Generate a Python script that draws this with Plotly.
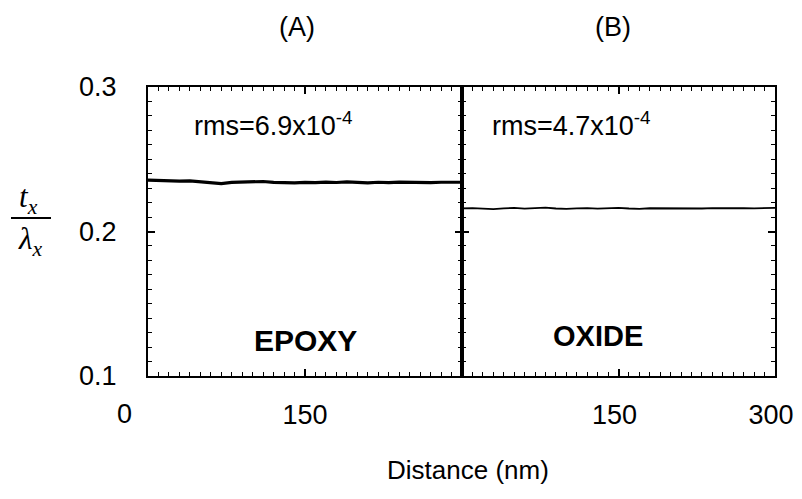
import plotly.graph_objects as go

# ---- data ----
dist_nm = [0, 10, 20, 30, 40, 50, 60, 70, 80, 90, 100, 110, 120, 130, 140, 150,
           160, 170, 180, 190, 200, 210, 220, 230, 240, 250, 260, 270, 280, 290, 300]
epoxy_ratio = [0.2355, 0.2352, 0.2350, 0.2348, 0.2350, 0.2345, 0.2338, 0.2332, 0.2340, 0.2342,
               0.2345, 0.2346, 0.2340, 0.2336, 0.2337, 0.2340, 0.2338, 0.2342, 0.2339, 0.2343,
               0.2340, 0.2337, 0.2341, 0.2338, 0.2342, 0.2339, 0.2340, 0.2338, 0.2341, 0.2340, 0.2341]
oxide_ratio = [0.2160, 0.2162, 0.2158, 0.2155, 0.2160, 0.2163, 0.2158, 0.2161, 0.2165, 0.2159,
               0.2156, 0.2160, 0.2162, 0.2158, 0.2161, 0.2163, 0.2159, 0.2157, 0.2161, 0.2160,
               0.2163, 0.2158, 0.2161, 0.2159, 0.2162, 0.2160, 0.2158, 0.2161, 0.2160, 0.2163, 0.2164]
x_ticks_a = [150]
x_ticks_b = [150, 300]
y_ticks = [0.1, 0.2, 0.3]

FONT = "Liberation Sans, Arial, sans-serif"
SERIF = "Liberation Serif, Times New Roman, serif"
# page body adds an 8px offset; figure sized so the page does not overflow the window
W, H = 794, 483
L, R, T, B = 140, 27, 79, 115
PW, PH = W - L - R, H - T - B
split = 314 / PW


def px(wx):   # window x pixel -> paper x
    return (wx - 148) / PW


def py(wy):   # window y pixel -> paper y
    return (376 - wy) / PH


fig = go.Figure()
fig.add_trace(go.Scatter(x=dist_nm, y=epoxy_ratio, mode="lines",
                         line=dict(color="black", width=3.2), xaxis="x", yaxis="y",
                         showlegend=False))
fig.add_trace(go.Scatter(x=dist_nm, y=oxide_ratio, mode="lines",
                         line=dict(color="black", width=1.8), xaxis="x2", yaxis="y2",
                         showlegend=False))

xcommon = dict(range=[0, 300], showline=True, linecolor="black", linewidth=2, mirror="allticks",
               ticks="inside", ticklen=7, tickwidth=1.5, tickcolor="black", showgrid=False,
               zeroline=False, tickfont=dict(family=FONT, size=27, color="black"),
               minor=dict(ticks="inside", ticklen=4, dtick=10, tickcolor="black", tickwidth=1),
               ticklabelstandoff=14, automargin=False, ticklabeloverflow="allow")
ycommon = dict(range=[0.1, 0.3], showline=True, linecolor="black", linewidth=2, mirror="allticks",
               ticks="inside", ticklen=7, tickwidth=1.5, tickcolor="black", showgrid=False,
               zeroline=False, tickvals=y_ticks, automargin=False,
               minor=dict(ticks="inside", ticklen=4, dtick=0.01, tickcolor="black", tickwidth=1))

fig.update_layout(
    width=W, height=H, autosize=False,
    margin=dict(l=L, r=R, t=T, b=B, pad=0),
    paper_bgcolor="white", plot_bgcolor="white",
    font=dict(family=FONT, size=27, color="black"),
    xaxis=dict(domain=[0, split], anchor="y", tickvals=x_ticks_a, **xcommon),
    xaxis2=dict(domain=[split, 1], anchor="y2", tickvals=x_ticks_b, ticklabelshift=-4, **xcommon),
    yaxis=dict(anchor="x", tickformat=".1f", ticklabelstandoff=24,
               tickfont=dict(family=FONT, size=27, color="black"), **ycommon),
    yaxis2=dict(anchor="x2", matches="y", showticklabels=False, **ycommon),
)


def txt(text, x, y, size, family=FONT, xanchor="center", **kw):
    return dict(text=text, x=x, y=y, xanchor=xanchor, yanchor="middle", showarrow=False,
                font=dict(family=family, size=size, color="black"), **kw)


ann = [
    txt("0", px(124), py(414), 27, xref="paper", yref="paper"),
    txt("(A)", px(297), py(27), 27, xref="paper", yref="paper"),
    txt("(B)", px(613), py(27), 27, xref="paper", yref="paper"),
    txt("Distance (nm)", px(468), py(470), 26, xref="paper", yref="paper"),
    txt("rms=6.9x10<sup>-4</sup>", 42, 0.2745, 27, xanchor="left", xref="x", yref="y"),
    txt("rms=4.7x10<sup>-4</sup>", 27, 0.2745, 27, xanchor="left", xref="x2", yref="y2"),
    txt("<b>EPOXY</b>", 150, 0.1245, 30, xref="x", yref="y"),
    txt("<b>OXIDE</b>", 130, 0.1275, 29, xref="x2", yref="y2"),
    txt("<i>t<sub>x</sub></i>", px(28), py(199), 31, family=SERIF, xref="paper", yref="paper"),
    txt("<i>λ<sub>x</sub></i>", px(30), py(241), 31, family=SERIF, xref="paper", yref="paper"),
]
fig.update_layout(annotations=ann)
fig.add_shape(type="line", xref="paper", yref="paper",
              x0=px(11), x1=px(51), y0=py(218), y1=py(218),
              line=dict(color="black", width=2))

fig.write_html("out.html")
